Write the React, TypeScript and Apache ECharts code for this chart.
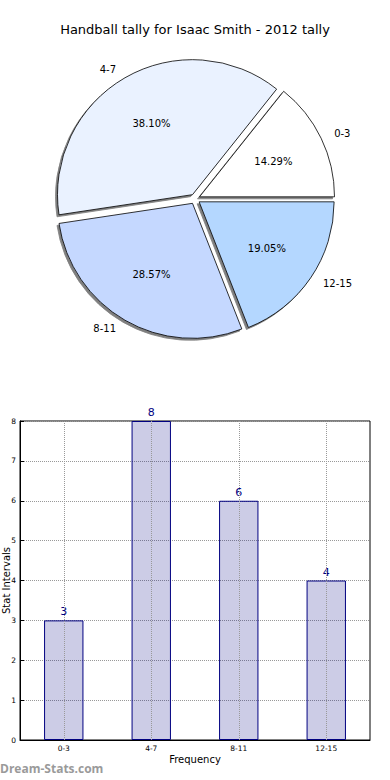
import { useEffect, useRef } from 'react';
import * as echarts from 'echarts';

const chartTitle = 'Handball tally for Isaac Smith - 2012 tally';
const categories = ['0-3', '4-7', '8-11', '12-15'];
const counts = [3, 8, 6, 4];
const yAxisName = 'Stat Intervals';
const xAxisName = 'Frequency';
const watermark = 'Dream-Stats.com';
const sliceColors = ['#ffffff', '#eaf2ff', '#c5d8ff', '#b4d7ff'];

export default function App() {
  const ref = useRef<HTMLDivElement>(null);
  useEffect(() => {
    const chart = echarts.init(ref.current!, null, { renderer: 'svg' });
    const total = counts.reduce((a, b) => a + b, 0);
    const pieData = categories.map((name, i) => ({
      name,
      value: counts[i],
      selected: true,
      itemStyle: { color: sliceColors[i] },
    }));
    const pctData = categories.map((name, i) => ({
      name,
      value: counts[i],
      selected: true,
    }));
    chart.setOption({
      animation: false,
      backgroundColor: '#ffffff',
      textStyle: { fontFamily: 'DejaVu Sans' },
      title: {
        text: chartTitle,
        left: 'center',
        top: 18,
        textStyle: { fontSize: 13, fontWeight: 'normal', color: '#000', fontFamily: 'DejaVu Sans' },
      },
      grid: {
        left: 20,
        right: 20,
        top: 421,
        bottom: 40,
        show: true,
        borderColor: '#000',
        borderWidth: 1,
        containLabel: false,
        outerBoundsMode: 'none',
      },
      xAxis: {
        type: 'category',
        data: categories,
        name: xAxisName,
        nameLocation: 'middle',
        nameGap: 14,
        nameMoveOverlap: false,
        nameTextStyle: { fontSize: 10, color: '#000' },
        axisLine: { lineStyle: { color: '#000' } },
        axisTick: { inside: true, alignWithLabel: true, length: 4, lineStyle: { color: '#000' } },
        axisLabel: { fontSize: 7.5, color: '#000', margin: 4 },
        splitLine: { show: false },
      },
      yAxis: {
        type: 'value',
        min: 0,
        max: 8,
        interval: 1,
        name: yAxisName,
        nameLocation: 'middle',
        nameGap: 9,
        nameMoveOverlap: false,
        nameTextStyle: { fontSize: 10, color: '#000' },
        axisLine: { show: true, lineStyle: { color: '#000' } },
        axisTick: { show: true, inside: true, length: 4, lineStyle: { color: '#000' } },
        axisLabel: { fontSize: 7.5, color: '#000', margin: 4 },
        splitLine: { show: true, lineStyle: { type: 'dotted', color: '#999', width: 1 } },
      },
      series: [
        {
          type: 'pie',
          center: [195, 199],
          radius: 135,
          startAngle: 0,
          clockwise: false,
          selectedMode: 'multiple',
          selectedOffset: 5,
          avoidLabelOverlap: false,
          data: pieData,
          itemStyle: {
            borderColor: '#000',
            borderWidth: 0.8,
            shadowColor: 'rgba(0,0,0,0.5)',
            shadowBlur: 1,
            shadowOffsetX: -2,
            shadowOffsetY: 2,
          },
          label: { show: true, position: 'outside', fontSize: 10, color: '#000', distanceToLabelLine: 4 },
          labelLine: { show: false, length: 10, length2: 0 },
          emphasis: { disabled: true },
        },
        {
          type: 'pie',
          center: [195, 199],
          radius: [0, 158],
          startAngle: 0,
          clockwise: false,
          selectedMode: 'multiple',
          selectedOffset: 5,
          silent: true,
          avoidLabelOverlap: false,
          data: pctData,
          itemStyle: { color: 'rgba(0,0,0,0)', borderWidth: 0 },
          label: {
            show: true,
            position: 'inside',
            fontSize: 10,
            color: '#000',
            formatter: (p: any) => ((p.value / total) * 100).toFixed(2) + '%',
          },
          labelLine: { show: false },
          emphasis: { disabled: true },
        },
        {
          type: 'bar',
          data: counts,
          barWidth: '45%',
          itemStyle: { color: 'rgba(0,0,128,0.2)', borderColor: '#000080', borderWidth: 1 },
          label: { show: true, position: 'top', distance: 3, color: '#000080', fontSize: 11 },
          emphasis: { disabled: true },
          markLine: {
            silent: true,
            symbol: 'none',
            label: { show: false },
            lineStyle: { type: 'dotted', color: '#999', width: 1 },
            data: categories.map((c) => ({ xAxis: c })),
          },
        },
      ],
      graphic: [
        {
          type: 'text',
          left: 0,
          top: 762,
          style: { text: watermark, fill: '#9a9a9a', font: 'bold 12px "Open Sans"' },
        },
      ],
    });
    return () => chart.dispose();
  }, []);
  return (
    <div
      ref={ref}
      style={{ position: 'fixed', left: 0, top: 0, width: 390, height: 780, background: '#fff' }}
    />
  );
}
